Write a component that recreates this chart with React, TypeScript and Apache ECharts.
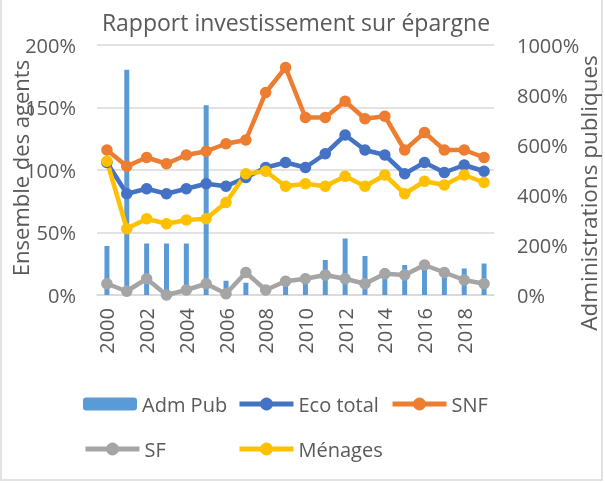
import React, { useEffect, useRef } from "react";
import * as echarts from "echarts";

const years = ["2000","2001","2002","2003","2004","2005","2006","2007","2008","2009","2010","2011","2012","2013","2014","2015","2016","2017","2018","2019"];
const admPub = [196, 901, 206, 206, 206, 759, 57, 49, 20, 40, 45, 140, 226, 156, 106, 120, 120, 90, 106, 126];
const ecoTotal = [106, 81, 85, 81, 85, 89, 87, 94, 102, 106, 102, 113, 128, 116, 112, 97, 106, 98, 104, 99];
const snf = [116, 103, 110, 105, 112, 115, 121, 124, 162, 182, 142, 142, 155, 141, 143, 116, 130, 116, 116, 110];
const sf = [9, 3, 13, 0, 4, 9, 1, 18, 4, 11, 13, 16, 13, 9, 17, 16, 24, 18, 12, 9];
const menages = [107, 53, 61, 57, 60, 61, 74, 97, 99, 87, 89, 87, 95, 87, 96, 81, 91, 88, 96, 90];

const TXT = "#595959";
const GRID = "#d9d9d9";
const FONT = "Open Sans";

export default function App() {
  const ref = useRef<HTMLDivElement>(null);
  useEffect(() => {
    if (!ref.current) return;
    const chart = echarts.init(ref.current, null, { renderer: "svg" });
    const lineSeries = (name: string, data: number[], color: string) => ({
      name,
      type: "line",
      yAxisIndex: 0,
      data,
      symbol: "circle",
      symbolSize: 11.5,
      lineStyle: { width: 4.5, color },
      itemStyle: { color },
    });
    const leg = (name: string, left: number, top: number, h: number) => ({
      data: [name],
      left,
      top,
      itemWidth: 54,
      itemHeight: h,
      itemGap: 0,
      lineStyle: { width: 5 },
      textStyle: { color: TXT, fontSize: 20, fontFamily: FONT },
    });
    const pct = (v: number) => `${v}%`;
    chart.setOption({
      animation: false,
      textStyle: { fontFamily: FONT },
      grid: { left: 97, right: 111, top: 45, bottom: 188 },
      legend: [
        leg("Adm Pub", 78, 389, 13),
        leg("Eco total", 232, 389, 16),
        leg("SNF", 385, 389, 16),
        leg("SF", 78, 434, 16),
        leg("Ménages", 232, 434, 16),
      ],
      xAxis: {
        type: "category",
        data: years,
        boundaryGap: true,
        axisTick: { show: false },
        axisLine: { lineStyle: { color: GRID, width: 1.5 } },
        axisLabel: { rotate: 90, interval: 1, color: TXT, fontSize: 20, margin: 13, fontFamily: FONT },
      },
      yAxis: [
        {
          type: "value",
          min: 0,
          max: 200,
          interval: 50,
          axisLine: { show: false },
          axisTick: { show: false },
          splitLine: { lineStyle: { color: GRID, width: 1.5 } },
          axisLabel: { formatter: pct, color: TXT, fontSize: 20, margin: 21, fontFamily: FONT },
        },
        {
          type: "value",
          min: 0,
          max: 1000,
          interval: 200,
          position: "right",
          axisLine: { show: false },
          axisTick: { show: false },
          splitLine: { show: false },
          axisLabel: { formatter: pct, color: TXT, fontSize: 20, margin: 23, fontFamily: FONT },
        },
      ],
      graphic: [
        {
          type: "rect",
          shape: { x: 1, y: -10, width: 601, height: 490 },
          style: { fill: "none", stroke: GRID, lineWidth: 1.5 },
          silent: true,
        },
        {
          type: "text",
          x: 296,
          y: 22,
          style: { text: "Rapport investissement sur épargne", fill: TXT, fontSize: 23, fontFamily: FONT, textAlign: "center", textVerticalAlign: "middle" },
        },
        {
          type: "text",
          x: 20,
          y: 168,
          rotation: Math.PI / 2,
          style: { text: "Ensemble des agents", fill: TXT, fontSize: 22, fontFamily: FONT, textAlign: "center", textVerticalAlign: "middle" },
        },
        {
          type: "text",
          x: 588,
          y: 193,
          rotation: Math.PI / 2,
          style: { text: "Administrations publiques", fill: TXT, fontSize: 22.5, fontFamily: FONT, textAlign: "center", textVerticalAlign: "middle" },
        },
      ],
      series: [
        {
          name: "Adm Pub",
          type: "bar",
          yAxisIndex: 1,
          data: admPub,
          barWidth: 5,
          itemStyle: { color: "#5B9BD5" },
        },
        lineSeries("Eco total", ecoTotal, "#4472C4"),
        lineSeries("SNF", snf, "#ED7D31"),
        lineSeries("SF", sf, "#A5A5A5"),
        lineSeries("Ménages", menages, "#FFC000"),
      ],
    });
    return () => chart.dispose();
  }, []);
  return <div ref={ref} style={{ position: "fixed", left: 0, top: 0, width: 605, height: 483 }} />;
}
